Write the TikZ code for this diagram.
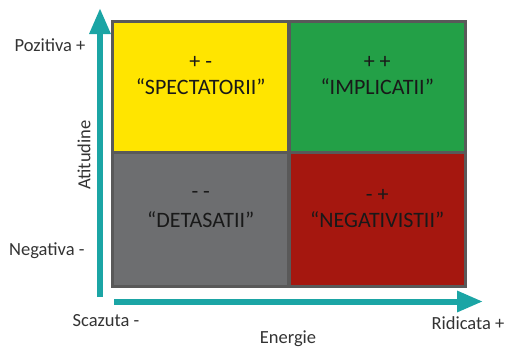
\documentclass[tikz,border=0pt]{standalone}
\usepackage{fontspec}
\setmainfont{Carlito}
\usepackage[]{xcolor}
\usepackage{tikz}
\usetikzlibrary{calc,arrows.meta}
\definecolor{quadY}{HTML}{FFE500}
\definecolor{quadG}{HTML}{23A047}
\definecolor{quadD}{HTML}{6D6E70}
\definecolor{quadR}{HTML}{A5170F}
\definecolor{frameC}{HTML}{595959}
\definecolor{axisC}{HTML}{1BA5A5}

\begin{document}
\begin{tikzpicture}[x=1pt,y=-1pt]
\tikzstyle{cell}=[rectangle,inner sep=0pt,minimum width=173pt]
\tikzstyle{axis}=[-{Triangle[width=20pt,length=26pt]},line width=6pt,axisC]
\tikzstyle{word}=[font=\fontsize{22}{24}\selectfont,text=black!90]
\tikzstyle{lbl}=[font=\fontsize{18.5}{20}\selectfont,text=black!80]

\def\signup{24pt}
\useasboundingbox (0,0) rectangle (507,348);

% grid of the four quadrants
\fill[frameC] (111,20) rectangle (467,288);
\node[cell,minimum height=128pt,fill=quadY] (qTL) at (200.75,86.75) {};
\node[cell,minimum height=128pt,fill=quadG] (qTR) at (377.25,86.75) {};
\node[cell,minimum height=131.5pt,fill=quadD] (qBL) at (200.75,219.25) {};
\node[cell,minimum height=131.5pt,fill=quadR] (qBR) at (377.25,219.25) {};

\node[word] (nTL) at (qTL) {“SPECTATORII”};
\node[word] (nTR) at (qTR) {“IMPLICATII”};
\node[word] (nBL) at (qBL) {“DETASATII”};
\node[word] (nBR) at (qBR) {“NEGATIVISTII”};
\node[word,yshift=\signup] (sTL) at (qTL) {+ -};
\node[word,yshift=\signup] (sTR) at (qTR) {+ +};
\node[word,yshift=\signup] (sBL) at (qBL) {- -};
\node[word,yshift=\signup] (sBR) at (qBR) {- +};

% axes
\coordinate (yB) at (100,297);
\coordinate (yT) at (100,8);
\coordinate (xL) at (114,301.5);
\coordinate (xR) at (483,301.5);
\draw[axis] (yB) -- (yT);
\draw[axis] (xL) -- (xR);

\draw[shift={(89,45)}] node[lbl,anchor=east] (lPoz) {Pozitiva +};
\draw[shift={(88,251)}] node[lbl,anchor=east] (lNeg) {Negativa -};
\draw[shift={(84,155)}] node[lbl,rotate=90] (lAti) {Atitudine};
\draw[shift={(106,321)}] node[lbl] (lSca) {Scazuta -};
\draw[shift={(288,343)}] node[lbl,anchor=base] (lEne) {Energie};
\draw[shift={(468,323)}] node[lbl] (lRid) {Ridicata +};
\end{tikzpicture}
\end{document}
